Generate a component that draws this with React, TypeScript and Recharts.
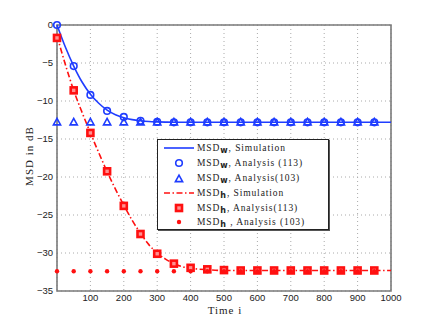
import React from "react";
import {
  ComposedChart,
  Line,
  Scatter,
  XAxis,
  YAxis,
  CartesianGrid,
  ReferenceArea
} from "recharts";

const BLUE = "#1f3dff";
const RED = "#ff1010";

// simulation curves
const simX = [0, 25, 50, 75, 100, 125, 150, 175, 200, 225, 250, 275, 300, 325, 350, 375, 400, 450, 500, 600, 700, 800, 900, 1000];
const simW = [0, -2.9, -5.4, -7.5, -9.1, -10.3, -11.2, -11.8, -12.2, -12.45, -12.6, -12.7, -12.75, -12.78, -12.8, -12.8, -12.8, -12.8, -12.8, -12.8, -12.8, -12.8, -12.8, -12.8];
const simH = [-1.4, -5.2, -8.6, -11.5, -14.2, -16.8, -19.3, -21.6, -23.7, -25.7, -27.4, -28.9, -30.0, -30.8, -31.4, -31.8, -32.0, -32.2, -32.3, -32.3, -32.3, -32.3, -32.3, -32.3];

// analysis markers every 50 samples
const markX = [0, 50, 100, 150, 200, 250, 300, 350, 400, 450, 500, 550, 600, 650, 700, 750, 800, 850, 900, 950];
const anaW113 = [0, -5.4, -9.2, -11.3, -12.1, -12.6, -12.75, -12.8, -12.8, -12.8, -12.8, -12.8, -12.8, -12.8, -12.8, -12.8, -12.8, -12.8, -12.8, -12.8];
const anaW103 = [-12.8, -12.8, -12.8, -12.8, -12.8, -12.8, -12.8, -12.8, -12.8, -12.8, -12.8, -12.8, -12.8, -12.8, -12.8, -12.8, -12.8, -12.8, -12.8, -12.8];
const anaH113 = [-1.7, -8.6, -14.2, -19.25, -23.8, -27.5, -30.1, -31.4, -31.95, -32.15, -32.25, -32.3, -32.3, -32.3, -32.3, -32.3, -32.3, -32.3, -32.3, -32.3];
const anaH103 = [-32.4, -32.4, -32.4, -32.4, -32.4, -32.4, -32.4, -32.4, -32.4, -32.4, -32.4, -32.4, -32.4, -32.4, -32.4, -32.4, -32.4, -32.4, -32.4, -32.4];

const xTicks = [0, 100, 200, 300, 400, 500, 600, 700, 800, 900, 1000];
const yTicks = [-35, -30, -25, -20, -15, -10, -5, 0];

const zip = (xs: number[], ys: number[]) => xs.map((x, i) => ({ x, y: ys[i] }));

const serif = "'Liberation Serif', 'DejaVu Serif', serif";
const sans = "'Liberation Sans', Arial, sans-serif";

const Circle = (p: any) => (
  <circle cx={p.cx} cy={p.cy} r={3.3} fill="none" stroke={BLUE} strokeWidth={1.6} />
);
const Tri = (p: any) => (
  <path
    d={`M${p.cx},${p.cy - 3.8} L${p.cx + 3.6},${p.cy + 2.6} L${p.cx - 3.6},${p.cy + 2.6} Z`}
    fill="none"
    stroke={BLUE}
    strokeWidth={1.6}
  />
);
const Square = (p: any) => (
  <rect x={p.cx - 3} y={p.cy - 3} width={6} height={6} fill="#ff9090" stroke={RED} strokeWidth={2.6} />
);
const Dot = (p: any) => <circle cx={p.cx} cy={p.cy} r={2.2} fill={RED} />;

const Sub = ({ c }: { c: string }) => (
  <span style={{ fontWeight: "bold", fontSize: 8, position: "relative", top: 2, fontFamily: "'DejaVu Sans', sans-serif" }}>{c}</span>
);

const legendRows = [
  { sym: "line", sub: "w", text: ", Simulation" },
  { sym: "circle", sub: "w", text: ", Analysis (113)" },
  { sym: "tri", sub: "w", text: ", Analysis(103)" },
  { sym: "dash", sub: "h", text: ", Simulation" },
  { sym: "square", sub: "h", text: ", Analysis(113)" },
  { sym: "dot", sub: "h", text: " , Analysis (103)" }
];

const LegendSym = ({ sym }: { sym: string }) => (
  <svg width={32} height={14} style={{ display: "block" }}>
    {sym === "line" && <line x1={1} x2={31} y1={7} y2={7} stroke={BLUE} strokeWidth={1.6} />}
    {sym === "circle" && <Circle cx={16} cy={7} />}
    {sym === "tri" && <Tri cx={16} cy={8} />}
    {sym === "dash" && (
      <line x1={1} x2={31} y1={7} y2={7} stroke={RED} strokeWidth={1.6} strokeDasharray="6 2.5 1.5 2.5" />
    )}
    {sym === "square" && <Square cx={16} cy={7} />}
    {sym === "dot" && <Dot cx={16} cy={7} />}
  </svg>
);

const App = () => {
  return (
    <div style={{ position: "absolute", left: 0, top: 0, width: 436, height: 327, background: "#fff" }}>
      <ComposedChart width={436} height={327} margin={{ top: 25, right: 45, bottom: 6, left: 27 }}>
        <CartesianGrid stroke="#aaa" strokeDasharray="1 3" ticks={xTicks} />
        <XAxis
          dataKey="x"
          type="number"
          domain={[0, 1000]}
          ticks={xTicks}
          height={30}
          axisLine={false}
          tickLine={false}
          tickSize={2}
          tickMargin={1}
          tick={{ fontSize: 9.5, fill: "#222", fontFamily: sans }}
          tickFormatter={(v: number) => (v === 0 ? "" : String(v))}
          label={{
            content: () => (
              <text x={225} y={314} textAnchor="middle" fontFamily={serif} fontSize={11} letterSpacing={1} fill="#222">
                Time i
              </text>
            )
          }}
          allowDuplicatedCategory={false}
        />
        <YAxis
          type="number"
          domain={[-35, 0]}
          ticks={yTicks}
          width={30}
          axisLine={false}
          tickLine={false}
          tickSize={2}
          tickMargin={2}
          tick={{ fontSize: 9.5, fill: "#222", fontFamily: sans }}
          tickFormatter={(v: number) => String(v).replace("-", "\u2212")}
          label={{
            content: () => (
              <text
                x={33}
                y={156}
                transform="rotate(-90 33 156)"
                textAnchor="middle"
                fontFamily={serif}
                fontSize={11}
                letterSpacing={1}
                fill="#222"
              >
                MSD in dB
              </text>
            )
          }}
        />
        <ReferenceArea x1={0} x2={1000} y1={-35} y2={0} fill="none" stroke="#7a7a7a" strokeWidth={1.6} ifOverflow="visible" />
        <Line data={zip(simX, simW)} dataKey="y" type="monotone" stroke={BLUE} strokeWidth={1.6} dot={false} isAnimationActive={false} />
        <Scatter data={zip(markX, anaW113)} dataKey="y" shape={Circle} isAnimationActive={false} />
        <Scatter data={zip(markX, anaW103)} dataKey="y" shape={Tri} isAnimationActive={false} />
        <Line
          data={zip(simX, simH)}
          dataKey="y"
          type="monotone"
          stroke={RED}
          strokeWidth={1.6}
          strokeDasharray="6 2.5 1.5 2.5"
          dot={false}
          isAnimationActive={false}
        />
        <Scatter data={zip(markX, anaH113)} dataKey="y" shape={Square} isAnimationActive={false} />
        <Scatter data={zip(markX, anaH103)} dataKey="y" shape={Dot} isAnimationActive={false} />
      </ComposedChart>
      <div
        style={{
          position: "absolute",
          left: 157,
          top: 139,
          width: 172,
          height: 91,
          border: "1px solid #222",
          boxShadow: "1px 1px 0 #555",
          background: "#fff",
          boxSizing: "border-box",
          padding: "1px 0 0 5px",
          fontFamily: serif,
          fontSize: 9.5,
          letterSpacing: 0.9,
          color: "#222"
        }}
      >
        {legendRows.map((r) => (
          <div key={r.sym} style={{ display: "flex", alignItems: "center", height: 14.8 }}>
            <LegendSym sym={r.sym} />
            <span style={{ marginLeft: 2, whiteSpace: "nowrap" }}>
              MSD<Sub c={r.sub} />
              {r.text}
            </span>
          </div>
        ))}
      </div>
    </div>
  );
};

export default App;
